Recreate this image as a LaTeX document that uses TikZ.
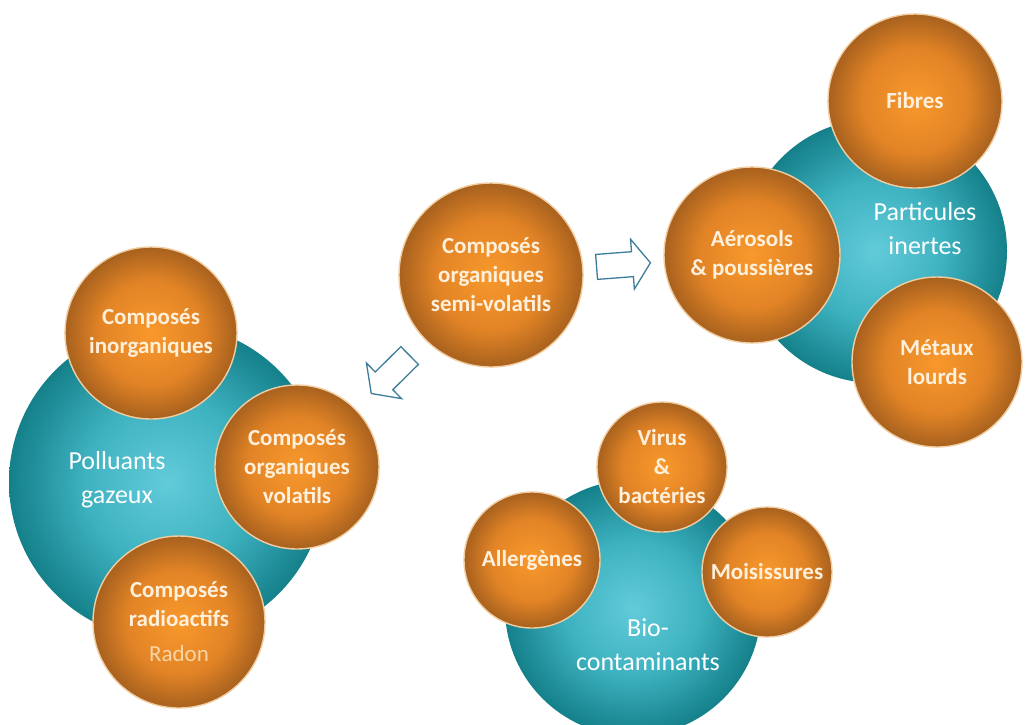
\documentclass[tikz,border=0pt]{standalone}
\usepackage{fontspec}
\setmainfont{Carlito}

\definecolor{tealin}{RGB}{98,203,218}
\definecolor{tealmid}{RGB}{62,178,192}
\definecolor{tealout}{RGB}{20,128,138}
\definecolor{orangein}{RGB}{248,152,44}
\definecolor{orangemid}{RGB}{226,132,38}
\definecolor{orangeout}{RGB}{168,97,30}
\definecolor{orangeedge}{RGB}{240,205,160}
\definecolor{arrowblue}{RGB}{60,125,155}
\definecolor{creamtext}{RGB}{255,240,220}
\definecolor{radontext}{RGB}{250,212,165}

\pgfdeclareradialshading{tealball}{\pgfpoint{0bp}{0bp}}{color(0bp)=(tealin); color(13bp)=(tealmid); color(25bp)=(tealout); color(50bp)=(tealout)}
\pgfdeclareradialshading{orangeball}{\pgfpoint{0bp}{0bp}}{color(0bp)=(orangein); color(15bp)=(orangemid); color(25bp)=(orangeout); color(50bp)=(orangeout)}

\tikzset{
  family/.style={circle, shade, shading=tealball, inner sep=0pt},
  familytext/.style={text=white, align=center, font=\fontsize{26}{34}\selectfont},
  member/.style={circle, shade, shading=orangeball, draw=orangeedge, line width=1.4pt,
    inner sep=0pt, text=creamtext, align=center, font=\fontsize{23}{29}\selectfont\bfseries},
  arrowline/.style={draw=arrowblue, line width=1.3pt, fill=white, line join=miter},
  pics/hollowarrow/.style={code={
    \draw[arrowline] (-27,-12.5) -- (9,-12.5) -- (9,-25) -- (27,0) -- (9,25) -- (9,12.5) -- (-27,12.5) -- cycle;}}
}

\begin{document}
\begin{tikzpicture}[x=1pt,y=-1pt]
\useasboundingbox (0,0) rectangle (1025,724);
\clip (0,0) rectangle (1025,724);

% the three families
\node[family, minimum size=316pt] (polluants) at (167,482) {};
\node[family, minimum size=264pt] (particules) at (875,251) {};
\node[family, minimum size=256pt] (bio) at (633,608) {};

\node[familytext] (polluants-label) at (117,480) {Polluants\\gazeux};
\node[familytext] (particules-label) at (925,229) {Particules\\inertes};
\node[familytext] (bio-label) at (648,645) {Bio-\\contaminants};

% polluants gazeux
\node[member, minimum size=172pt] (inorg) at (151,333) {Composés\\inorganiques};
\node[member, minimum size=164pt] (cov) at (297,467) {Composés\\organiques\\volatils};
\node[member, minimum size=172pt] (radio) at (179,622) {Composés\\radioactifs\\[6pt]{\mdseries\color{radontext}Radon}};

% semi-volatils
\node[member, minimum size=184pt] (csv) at (491,275) {Composés\\organiques\\semi-volatils};

% particules inertes
\node[member, minimum size=174pt] (fibres) at (915,101) {Fibres};
\node[member, minimum size=176pt] (aerosols) at (752,255) {Aérosols\\\& poussières};
\node[member, minimum size=170pt] (metaux) at (937,362) {Métaux\\lourds};

% bio-contaminants
\node[member, minimum size=130pt] (virus) at (662,467) {Virus\\\&\\bactéries};
\node[member, minimum size=136pt] (allergenes) at (532,560) {Allergènes};
\node[member, minimum size=130pt] (moisissures) at (767,572) {Moisissures};

% arrows
\path (csv) -- pic[pos=.5, sloped, allow upside down]{hollowarrow} (aerosols);
\path (csv) -- pic[pos=.5, sloped, allow upside down]{hollowarrow} (cov);
\end{tikzpicture}
\end{document}
